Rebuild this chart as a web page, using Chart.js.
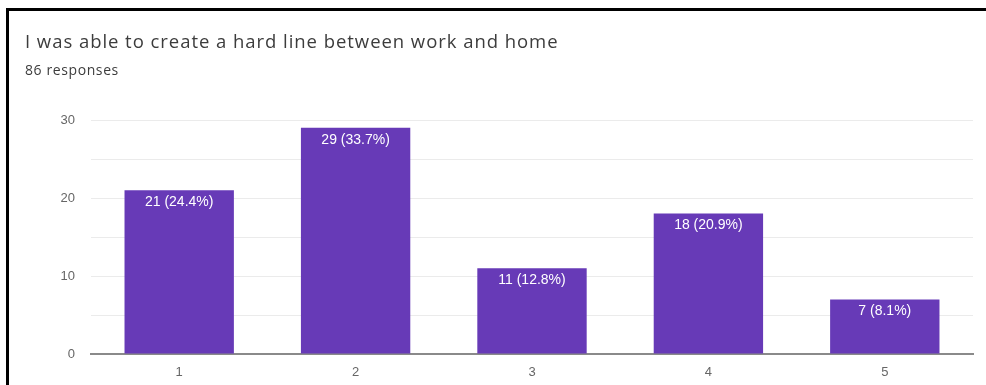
<!DOCTYPE html>
<html>
<head>
<meta charset="utf-8">
<script src="https://cdn.jsdelivr.net/npm/chart.js@4.4.1/dist/chart.umd.min.js"></script>
<style>
  html, body { margin: 0; padding: 0; background: #fff; }
  #wrap { position: relative; width: 986px; height: 385px; overflow: hidden; }
  #frame { position: absolute; left: 6px; top: 8px; right: 0; bottom: -10px;
           border-left: 3px solid #000; border-top: 3px solid #000; pointer-events: none; }
  #title { position: absolute; left: 25px; top: 29px; font: 18.5px "Open Sans", sans-serif;
           letter-spacing: 0.95px; color: #3c3c3c; line-height: 24px; white-space: nowrap; }
  #subtitle { position: absolute; left: 25px; top: 61px; font: 14px "Open Sans", sans-serif;
              letter-spacing: 0.6px; color: #3c3c3c; line-height: 18px; white-space: nowrap; }
  canvas { position: absolute; left: 0; top: 0; }
</style>
</head>
<body>
<div id="wrap">
  <canvas id="c" width="986" height="385"></canvas>
  <div id="title">I was able to create a hard line between work and home</div>
  <div id="subtitle">86 responses</div>
  <div id="frame"></div>
</div>
<script>
// Survey answers on a 1–5 scale and how many people picked each
const categories = ['1', '2', '3', '4', '5'];
const counts = [21, 29, 11, 18, 7];
const yTicks = [0, 10, 20, 30];

const total = counts.reduce((a, b) => a + b, 0);

// Writes "count (percent%)" inside the top of each bar
const barLabels = {
  id: 'barLabels',
  afterDatasetsDraw(chart) {
    const ctx = chart.ctx;
    const meta = chart.getDatasetMeta(0);
    ctx.save();
    ctx.fillStyle = '#ffffff';
    ctx.font = '14px "Liberation Sans", Arial, sans-serif';
    ctx.textAlign = 'center';
    ctx.textBaseline = 'middle';
    meta.data.forEach((bar, i) => {
      const v = counts[i];
      const pct = (v / total * 100).toFixed(1);
      ctx.fillText(v + ' (' + pct + '%)', bar.x, bar.y + 12);
    });
    ctx.restore();
  }
};

new Chart(document.getElementById('c'), {
  type: 'bar',
  data: {
    labels: categories,
    datasets: [{
      data: counts,
      backgroundColor: '#673ab7',
      borderWidth: 0,
      categoryPercentage: 1.0,
      barPercentage: 0.62
    }]
  },
  options: {
    responsive: false,
    animation: false,
    layout: { padding: { left: 0, right: 13, top: 120, bottom: 0 } },
    plugins: {
      legend: { display: false },
      tooltip: { enabled: false }
    },
    scales: {
      x: {
        grid: { display: false, drawTicks: false },
        border: { display: true, color: '#8a8a8a', width: 2 },
        ticks: { color: '#666', font: { family: '"Liberation Sans", Arial', size: 13 }, padding: 11 },
        afterFit(scale) { scale.height = 31; }
      },
      y: {
        min: 0,
        max: 30,
        grid: { color: '#ebebeb', drawTicks: false, lineWidth: 1 },
        border: { display: false },
        ticks: {
          stepSize: 5,
          color: '#666',
          font: { family: '"Liberation Sans", Arial', size: 13 },
          padding: 16,
          callback: (v) => yTicks.includes(v) ? v : ''
        },
        afterFit(scale) { scale.width = 91; }
      }
    }
  },
  plugins: [barLabels]
});
</script>
</body>
</html>
